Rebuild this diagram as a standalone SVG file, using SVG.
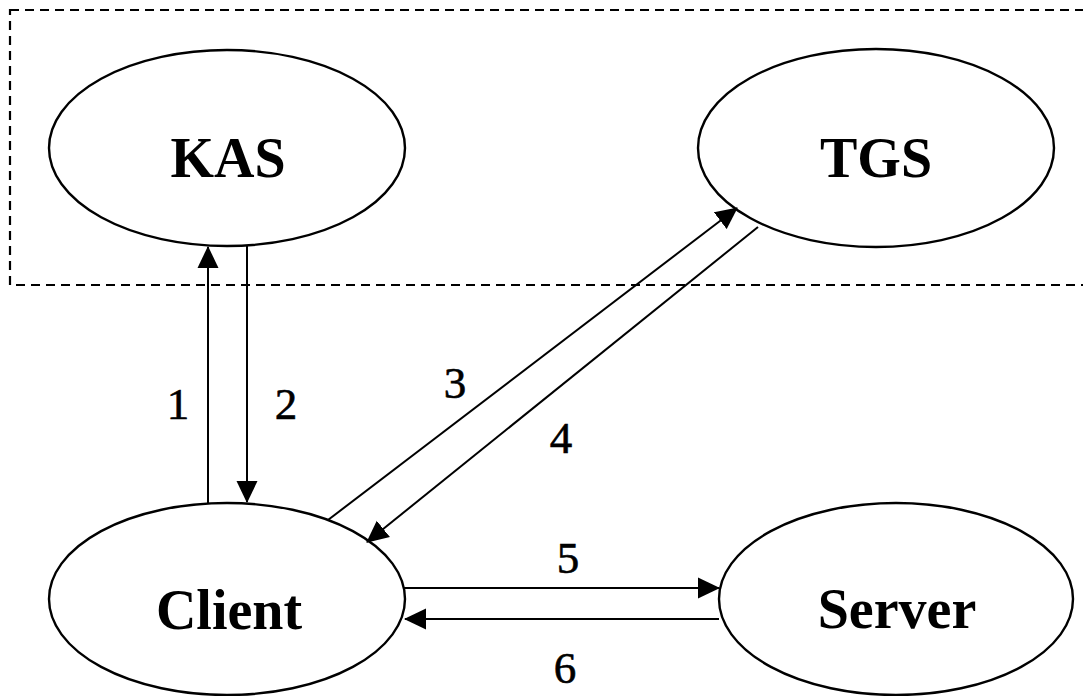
<svg xmlns="http://www.w3.org/2000/svg" width="1083" height="696" viewBox="0 0 1083 696">
<style>
.node ellipse{fill:#fff;stroke:#000;stroke-width:2.4}
.nl{font-family:"Liberation Serif",serif;font-weight:bold;font-size:56px;text-anchor:middle;fill:#000}
.el{font-family:"Liberation Serif",serif;font-size:45px;text-anchor:middle;fill:#000;stroke:#000;stroke-width:0.6}
.c line{stroke:#000;stroke-width:2}
</style>
<defs>
<marker id="ah" markerUnits="userSpaceOnUse" markerWidth="22" markerHeight="22" viewBox="0 0 22 22" refX="21" refY="11" orient="auto">
<path d="M0,0.5 L22,11 L0,21.5 Z" fill="#000"/>
</marker>
</defs>
<rect x="10" y="10" width="1100" height="275" fill="none" stroke="#000" stroke-width="2.2" stroke-dasharray="9,6"/>
<g id="KAS" class="node"><ellipse cx="227" cy="148" rx="178" ry="98"/><text class="nl" x="228" y="177">KAS</text></g>
<g id="TGS" class="node"><ellipse cx="876" cy="148" rx="178" ry="99"/><text class="nl" x="876" y="177">TGS</text></g>
<g id="Client" class="node"><ellipse cx="227" cy="599" rx="178" ry="96"/><text class="nl" x="229" y="629">Client</text></g>
<g id="Server" class="node"><ellipse cx="896" cy="599" rx="177" ry="96"/><text class="nl" x="897" y="628">Server</text></g>
<g id="connectors" class="c">
<line x1="208" y1="503" x2="208" y2="247" marker-end="url(#ah)"/>
<line x1="247" y1="246" x2="247" y2="502" marker-end="url(#ah)"/>
<line x1="328" y1="520" x2="737" y2="208" marker-end="url(#ah)"/>
<line x1="758" y1="227" x2="367" y2="542" marker-end="url(#ah)"/>
<line x1="404" y1="588" x2="719" y2="588" marker-end="url(#ah)"/>
<line x1="719" y1="619" x2="405" y2="619" marker-end="url(#ah)"/>
</g>
<g id="labels">
<text class="el" x="178" y="419">1</text>
<text class="el" x="286" y="419">2</text>
<text class="el" x="455" y="398">3</text>
<text class="el" x="561" y="453">4</text>
<text class="el" x="568" y="573">5</text>
<text class="el" x="565" y="683">6</text>
</g>
</svg>
